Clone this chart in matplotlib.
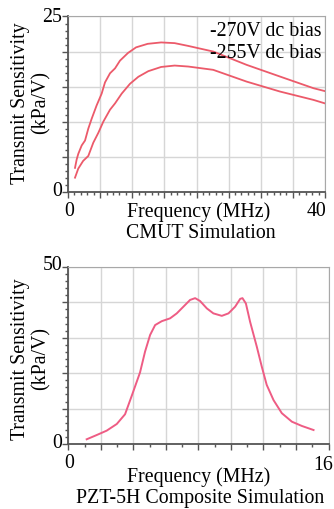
import matplotlib
matplotlib.use("Agg")
import matplotlib.pyplot as plt
from matplotlib.ticker import MultipleLocator, NullFormatter

plt.rcParams['font.family'] = ['Liberation Serif', 'DejaVu Serif']

# CMUT simulation (frequency MHz, sensitivity kPa/V)
f_270 = [1.09, 1.35, 1.6, 2.13, 2.65, 3.16, 3.68, 4.45, 5.24, 5.76, 6.54, 7.32, 8.09, 9.34,
         10.6, 12.4, 14.5, 16.6, 18.72, 22.6, 27.8, 33.0, 38.2, 40.0]
s_270 = [3.4, 4.6, 5.4, 6.6, 7.3, 9.0, 10.4, 12.3, 14.0, 15.6, 16.9, 17.6, 18.7, 19.8,
         20.6, 21.1, 21.3, 21.2, 20.8, 20.0, 18.1, 16.43, 14.77, 14.35]
f_255 = [1.09, 1.6, 2.36, 3.16, 3.94, 4.72, 5.5, 6.54, 7.32, 8.36, 9.65, 10.95, 12.5, 14.5,
         16.6, 18.72, 22.6, 27.8, 33.0, 38.2, 40.0]
s_255 = [2.0, 3.3, 4.4, 5.1, 7.0, 8.4, 10.0, 11.7, 12.6, 14.0, 15.4, 16.4, 17.2, 17.8,
         18.0, 17.86, 17.39, 15.71, 14.29, 13.1, 12.6]

# PZT-5H composite simulation
f_pzt = [1.13, 1.75, 2.36, 2.98, 3.49, 3.9, 4.41, 4.72, 5.03, 5.34, 5.75, 6.26, 6.67, 7.08,
         7.49, 7.8, 8.1, 8.52, 8.92, 9.44, 9.85, 10.26, 10.57, 10.71, 10.92, 11.18, 11.59,
         11.9, 12.2, 12.62, 13.13, 13.75, 14.36, 15.08]
s_pzt = [1.33, 2.54, 3.77, 5.65, 8.4, 13.6, 20.2, 26.1, 30.8, 33.6, 34.7, 35.5, 36.9, 38.8,
         40.7, 41.2, 40.4, 38.3, 36.9, 36.2, 36.9, 38.8, 41.0, 41.2, 39.7, 34.5, 27.5,
         21.8, 16.7, 12.4, 8.7, 6.3, 5.1, 3.95]

W, H = 334, 509
fig = plt.figure(figsize=(W / 100, H / 100), dpi=100)
FS = 14.3


def rect(x0, y0, x1, y1):
    # pixel box (top-left origin) -> figure fraction
    return [x0 / W, 1 - y1 / H, (x1 - x0) / W, (y1 - y0) / H]


def ftext(x, y, s, **kw):
    kw.setdefault('ha', 'center')
    kw.setdefault('va', 'center')
    fig.text(x / W, 1 - y / H, s, fontsize=FS, **kw)


ax1 = fig.add_axes(rect(68, 16.5, 325, 191.7))
ax2 = fig.add_axes(rect(68.3, 267, 328.5, 444))


def style(ax, xmax, ymax, xstep, ystep, yminor):
    ax.set_xlim(0, xmax)
    ax.set_ylim(0, ymax)
    ax.xaxis.set_major_locator(MultipleLocator(xstep))
    ax.yaxis.set_major_locator(MultipleLocator(ystep))
    ax.xaxis.set_minor_locator(MultipleLocator(1))
    ax.yaxis.set_minor_locator(MultipleLocator(yminor))
    ax.xaxis.set_major_formatter(NullFormatter())
    ax.yaxis.set_major_formatter(NullFormatter())
    ax.grid(True, which='major', color='#d6d6d6', lw=1.0)
    ax.set_axisbelow(True)
    for s in ('top', 'right'):
        ax.spines[s].set_color('#a8a8a8')
    for s in ('left', 'bottom'):
        ax.spines[s].set_color('#555555')
        ax.spines[s].set_linewidth(1.3)
    ax.tick_params(which='both', direction='out', color='#555555', width=1.0)
    ax.tick_params(which='major', length=4.5)
    ax.tick_params(which='minor', length=2.5)


style(ax1, 40, 25, 5, 5, 1)
ax1.plot(f_270, s_270, color='#ec5a6a', lw=1.3)
ax1.plot(f_255, s_255, color='#ec5a6a', lw=1.3)

style(ax2, 16, 50, 2, 10, 2)
ax2.plot(f_pzt, s_pzt, color='#ee5c84', lw=1.4)

# top panel labels
ftext(62, 17, '25', ha='right')
ftext(62, 191, '0', ha='right')
ftext(69, 212, '0')
ftext(326, 212, '40', ha='right')
ftext(199, 212, 'Frequency (MHz)')
ftext(201, 234, 'CMUT Simulation')
ftext(322, 32, '-270V dc bias', ha='right')
ftext(322, 54, '-255V dc bias', ha='right')
ftext(31, 103, 'Transmit Sensitivity\n(kPa/V)', rotation=90, linespacing=1.1)

# bottom panel labels
ftext(62, 266, '50', ha='right')
ftext(62, 443, '0', ha='right')
ftext(69, 463, '0')
ftext(333, 465, '16', ha='right')
ftext(199, 477, 'Frequency (MHz)')
ftext(200, 498, 'PZT-5H Composite Simulation')
ftext(31, 359, 'Transmit Sensitivity\n(kPa/V)', rotation=90, linespacing=1.1)

fig.savefig('out.png', dpi=100)
